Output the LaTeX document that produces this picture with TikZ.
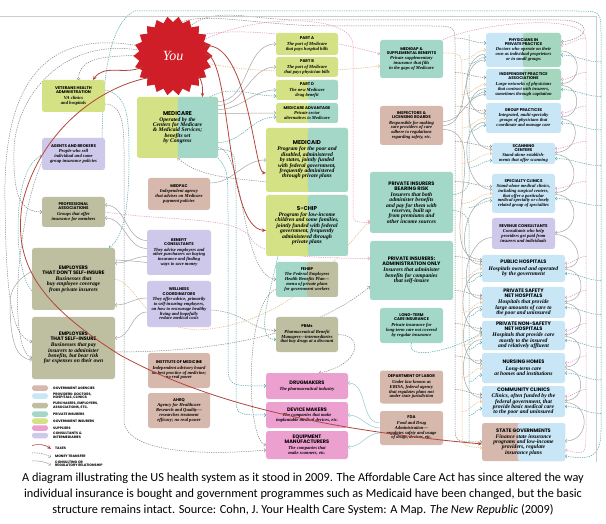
\documentclass[tikz,border=0pt]{standalone}
\usepackage{fontspec}
\setmainfont{Liberation Serif}
\newfontfamily\ttlfont{Poppins}
\newfontfamily\dscfont{Liberation Serif}
\newfontfamily\capfont{Carlito}
\usetikzlibrary{shapes.geometric,arrows.meta,calc}
\pgfdeclarelayer{paper}
\pgfdeclarelayer{bg}
\pgfsetlayers{paper,bg,main}

\definecolor{cgreen}{RGB}{212,225,132}
\definecolor{cteal}{RGB}{163,216,201}
\definecolor{cblue}{RGB}{200,230,246}
\definecolor{ckhaki}{RGB}{190,191,160}
\definecolor{cmauve}{RGB}{214,184,172}
\definecolor{clav}{RGB}{206,200,234}
\definecolor{cpink}{RGB}{236,160,208}
\definecolor{cgt}{RGB}{165,215,190}
\definecolor{cred}{RGB}{208,30,40}
\definecolor{ctax}{RGB}{178,70,60}
\definecolor{lteal}{RGB}{75,165,172}
\definecolor{lgray}{RGB}{135,135,135}
\definecolor{lpink}{RGB}{225,145,195}
\definecolor{lorange}{RGB}{230,182,125}
\definecolor{lcons}{RGB}{165,165,165}
\definecolor{lconsT}{RGB}{150,200,205}

\newcommand\ttS{\ttlfont\bfseries\fontsize{4}{4.2}\selectfont}
\newcommand\ttM{\ttlfont\bfseries\fontsize{5}{5.2}\selectfont}
\newcommand\ttL{\ttlfont\bfseries\fontsize{5.6}{6}\selectfont}
\newcommand\ddS{\dscfont\itshape\fontsize{4.6}{4.8}\selectfont}
\newcommand\ddM{\dscfont\itshape\fontsize{5.6}{5.4}\selectfont}
\newcommand\card[5]{\parbox{#1pt}{\centering#2#3\par\vspace{0.7pt}#4#5\par}}

\tikzset{
  bx/.style={rounded corners=2.5pt, inner sep=1pt, outer sep=0pt},
  sz/.style 2 args={minimum width=#1, minimum height=#2},
  splitfill/.style 2 args={path picture={\fill[#1] ($(path picture bounding box.south west)!#2!(path picture bounding box.south east)$) rectangle (path picture bounding box.north east);}},
  mline/.style={line width=0.5pt, dash pattern=on 1.3pt off 1pt, -{Straight Barb[length=1.6pt,width=3.4pt]}},
  mg/.style={mline, draw=lgray},
  mt/.style={mline, draw=lteal},
  mp/.style={mline, draw=lpink},
  mo/.style={mline, draw=lorange},
  cons/.style={line width=0.5pt, draw=lcons, -{Straight Barb[length=1.6pt,width=3.4pt]}},
  consT/.style={cons, draw=lconsT},
  tax/.style={line width=0.8pt, draw=ctax, -{Stealth[length=4pt,width=3.5pt]}},
  lsw/.style={rounded corners=1.8pt, minimum width=16, minimum height=5.5, inner sep=0pt},
  ltx/.style={font=\ttlfont\bfseries\fontsize{3.4}{3.5}\selectfont, anchor=west, align=left, inner sep=0pt},
}

\begin{document}
\begin{tikzpicture}[x=1pt,y=-1pt]
\useasboundingbox (0,0) rectangle (606,524);
\begin{pgfonlayer}{paper}
\fill[white] (0,0) rectangle (606,524);
\end{pgfonlayer}

% frame
\coordinate (fr1) at (0,16);
\coordinate (fr2) at (596,16);
\coordinate (fr3) at (596,462);
\draw[black!20, line width=0.5pt] (fr1) -- (fr2) -- (fr3);

% ---------- nodes ----------
\node[star, star points=22, star point ratio=0.86, fill=cred, minimum size=68pt, inner sep=0pt] (youstar) at (173,56) {\dscfont\itshape\fontsize{14}{14}\selectfont\color{white}You};
\node[circle, minimum size=64pt, inner sep=0pt] (you) at (173,56) {};

\node[bx,fill=cgreen,sz={63}{32}] (vha) at (73.5,96) {\card{59}{\ttS}{VETERANS HEALTH\\ADMINISTRATION}{\ddS}{VA clinics\\and hospitals}};
\node[bx,fill=clav,sz={63}{32}] (agents) at (73.5,154) {\card{59}{\ttS}{AGENTS AND BROKERS}{\ddS}{People who sell\\individual and some\\group insurance policies}};
\node[bx,fill=ckhaki,sz={63}{30}] (profassoc) at (73.5,212) {\card{59}{\ttS}{PROFESSIONAL\\ASSOCIATIONS}{\ddS}{Groups that offer\\insurance for members}};
\node[bx,fill=ckhaki,sz={83}{62}] (empno) at (73.5,279) {\card{79}{\ttM}{EMPLOYERS\\THAT DON'T SELF-INSURE}{\ddM}{Businesses that\\buy employee coverage\\from private insurers}};
\node[bx,fill=ckhaki,sz={83}{62}] (empself) at (73.5,348) {\card{79}{\ttM}{EMPLOYERS\\THAT SELF-INSURE}{\ddM}{Businesses that pay\\insurers to administer\\benefits, but bear risk\\for expenses on their own}};

\node[bx,fill=cgreen,splitfill={cteal}{0.506},sz={81}{61}] (medicare) at (177.5,127.5) {\card{77}{\ttL}{MEDICARE}{\ddM}{Operated by the\\Centers for Medicare\\\& Medicaid Services;\\benefits set\\by Congress}};
\node[bx,fill=cmauve,sz={62}{32}] (medpac) at (179,194) {\card{58}{\ttS}{MEDPAC}{\ddS}{Independent agency\\that advises on Medicare\\payment policies}};
\node[bx,fill=clav,sz={64}{45}] (bencons) at (179,252.5) {\card{60}{\ttS}{BENEFIT\\CONSULTANTS}{\ddS}{They advise employers and\\other purchasers on buying\\insurance and finding\\ways to save money}};
\node[bx,fill=clav,sz={64}{46}] (wellness) at (179,304) {\card{60}{\ttS}{WELLNESS\\COORDINATORS}{\ddS}{They offer advice, primarily\\to self-insuring employers,\\on how to encourage healthy\\living and hopefully\\reduce medical costs}};
\node[bx,fill=cmauve,sz={62}{35}] (iom) at (179,370.5) {\card{58}{\ttS}{INSTITUTE OF MEDICINE}{\ddS}{Independent advisory board\\on best practice of medicine;\\no real power}};
\node[bx,fill=cmauve,sz={62}{35}] (ahrq) at (179,410.5) {\card{58}{\ttS}{AHRQ}{\ddS}{Agency for Healthcare\\Research and Quality—\\researches treatment\\efficacy; no real power}};

\node[bx,fill=cgreen,sz={62}{22}] (parta) at (307,44) {\card{58}{\ttS}{PART A}{\ddS}{The part of Medicare\\that pays hospital bills}};
\node[bx,fill=cgreen,sz={62}{20}] (partb) at (307,67) {\card{58}{\ttS}{PART B}{\ddS}{The part of Medicare\\that pays physician bills}};
\node[bx,fill=cgreen,splitfill={cteal}{0.52},sz={62}{20}] (partd) at (307,90) {\card{58}{\ttS}{PART D}{\ddS}{The new Medicare\\drug benefit}};
\node[bx,fill=cgreen,splitfill={cteal}{0.52},sz={62}{20}] (medadv) at (307,113) {\card{58}{\ttS}{MEDICARE ADVANTAGE}{\ddS}{Private sector\\alternatives to Medicare}};
\node[bx,fill=cgreen,splitfill={cteal}{0.51},sz={82}{64}] (medicaid) at (307,160) {\card{78}{\ttL}{MEDICAID}{\ddM}{Program for the poor and\\disabled, administered\\by states, jointly funded\\with federal government,\\frequently administered\\through private plans}};
\node[bx,fill=cgreen,splitfill={cteal}{0.51},sz={82}{61}] (schip) at (307,225.5) {\card{78}{\ttL}{S-CHIP}{\ddM}{Program for low-income\\children and some families,\\jointly funded with federal\\government, frequently\\administered through\\private plans}};
\node[bx,fill=cteal,splitfill={ckhaki}{0.5},sz={62}{35}] (fehbp) at (307,279.5) {\card{58}{\ttS}{FEHBP}{\ddS}{The Federal Employees\\Health Benefits Plan—\\menu of private plans\\for government workers}};
\node[bx,fill=ckhaki,sz={62}{35}] (pbms) at (307,334.5) {\card{58}{\ttS}{PBMs}{\ddS}{Pharmaceutical Benefit\\Managers—intermediaries\\that buy drugs at a discount}};
\node[bx,fill=cpink,sz={82}{26}] (drug) at (307,386) {\card{78}{\ttM}{DRUGMAKERS}{\ddS}{The pharmaceutical industry}};
\node[bx,fill=cpink,sz={82}{26}] (device) at (307,415) {\card{78}{\ttM}{DEVICE MAKERS}{\ddS}{The companies that make\\implantable medical devices, etc.}};
\node[bx,fill=cpink,sz={82}{28}] (equip) at (307,445) {\card{78}{\ttM}{EQUIPMENT\\MANUFACTURERS}{\ddS}{The companies that\\make scanners, etc.}};

\node[bx,fill=cteal,sz={63}{38}] (medigap) at (411.5,59) {\card{59}{\ttS}{MEDIGAP \&\\SUPPLEMENTAL BENEFITS}{\ddS}{Private supplementary\\insurance that fills\\in the gaps of Medicare}};
\node[bx,fill=cmauve,sz={63}{39}] (inspectors) at (411.5,125.5) {\card{59}{\ttS}{INSPECTORS \&\\LICENSING BOARDS}{\ddS}{Responsible for making\\sure providers of care\\adhere to regulations\\regarding safety, etc.}};
\node[bx,fill=cteal,sz={83}{61}] (pirisk) at (411.5,202.5) {\card{79}{\ttM}{PRIVATE INSURERS\\BEARING RISK}{\ddM}{Insurers that both\\administer benefits\\and pay for them with\\reserves, built up\\from premiums and\\other income sources}};
\node[bx,fill=cteal,sz={83}{59}] (piadmin) at (411.5,270.5) {\card{79}{\ttM}{PRIVATE INSURERS:\\ADMINISTRATION ONLY}{\ddM}{Insurers that administer\\benefits for companies\\that self-insure}};
\node[bx,fill=cteal,sz={63}{35}] (ltc) at (411.5,325.5) {\card{59}{\ttS}{LONG-TERM\\CARE INSURANCE}{\ddS}{Private insurance for\\long-term care not covered\\by regular insurance}};
\node[bx,fill=cmauve,sz={63}{33}] (dol) at (411.5,387) {\card{59}{\ttS}{DEPARTMENT OF LABOR}{\ddS}{Under law known as\\ERISA, federal agency\\that regulates plans not\\under state jurisdiction}};
\node[bx,fill=cmauve,sz={63}{34}] (fda) at (411.5,428) {\card{59}{\ttS}{FDA}{\ddS}{Food and Drug\\Administration—\\regulates safety and usage\\of drugs, devices, etc.}};

\node[bx,fill=cblue,splitfill={cgt}{0.49},sz={75}{34}] (phys) at (523.5,50) {\card{71}{\ttS}{PHYSICIANS IN\\PRIVATE PRACTICE}{\ddS}{Doctors who operate on their\\own as individual proprietors\\or in small groups}};
\node[bx,fill=cblue,splitfill={cgt}{0.49},sz={75}{31}] (ipa) at (523.5,84.5) {\card{71}{\ttS}{INDEPENDENT PRACTICE\\ASSOCIATIONS}{\ddS}{Large networks of physicians\\that contract with insurers,\\sometimes through capitation}};
\node[bx,fill=cblue,sz={75}{30}] (group) at (523.5,118) {\card{71}{\ttS}{GROUP PRACTICES}{\ddS}{Integrated, multi-specialty\\groups of physicians that\\coordinate and manage care}};
\node[bx,fill=cblue,sz={63}{21}] (scan) at (523.5,153.5) {\card{59}{\ttS}{SCANNING\\CENTERS}{\ddS}{Stand-alone establish-\\ments that offer scanning}};
\node[bx,fill=cblue,sz={63}{39}] (spec) at (523.5,193.5) {\card{59}{\ttS}{SPECIALTY CLINICS}{\ddS}{Stand-alone medical clinics,\\including surgical centers,\\that offer a particular\\medical specialty or closely\\related group of specialties}};
\node[bx,fill=clav,sz={63}{31}] (revenue) at (523.5,233.5) {\card{59}{\ttS}{REVENUE CONSULTANTS}{\ddS}{Consultants who help\\providers get paid from\\insurers and individuals}};
\node[bx,fill=cblue,sz={83}{27}] (pubh) at (523.5,268.5) {\card{79}{\ttM}{PUBLIC HOSPITALS}{\ddM}{Hospitals owned and operated\\by the government}};
\node[bx,fill=cblue,sz={83}{31}] (safety) at (523.5,302.5) {\card{79}{\ttM}{PRIVATE SAFETY\\NET HOSPITALS}{\ddM}{Hospitals that provide\\large amounts of care to\\the poor and uninsured}};
\node[bx,fill=cblue,sz={83}{29}] (nonsafety) at (523.5,335.5) {\card{79}{\ttM}{PRIVATE NON-SAFETY\\NET HOSPITALS}{\ddM}{Hospitals that provide care\\mostly to the insured\\and relatively affluent}};
\node[bx,fill=cblue,sz={83}{30}] (nursing) at (523.5,368) {\card{79}{\ttM}{NURSING HOMES}{\ddM}{Long-term care\\at homes and institutions}};
\node[bx,fill=cblue,sz={83}{31}] (comm) at (523.5,401.5) {\card{79}{\ttM}{COMMUNITY CLINICS}{\ddM}{Clinics, often funded by the\\federal government, that\\provide basic medical care\\to the poor and uninsured}};
\node[bx,fill=cmauve,splitfill={cblue}{0.43},sz={83}{38}] (stategov) at (523.5,442) {\card{79}{\ttM}{STATE GOVERNMENTS}{\ddM}{Finance state insurance\\programs and low-income\\providers, regulate\\insurance plans}};

% legend
\node[lsw,fill=cmauve] (lg1) at (40,388) {};
\node[ltx] (lg1t) at (53,388) {GOVERNMENT AGENCIES};
\node[lsw,fill=cblue] (lg2) at (40,396) {};
\node[ltx] (lg2t) at (53,396) {PROVIDERS: DOCTORS,\\HOSPITALS, CLINICS};
\node[lsw,fill=ckhaki] (lg3) at (40,405.5) {};
\node[ltx] (lg3t) at (53,405.5) {PURCHASERS, EMPLOYERS,\\ASSOCIATIONS, ETC.};
\node[lsw,fill=cteal] (lg4) at (40,414) {};
\node[ltx] (lg4t) at (53,414) {PRIVATE INSURERS};
\node[lsw,fill=cgreen] (lg5) at (40,421) {};
\node[ltx] (lg5t) at (53,421) {GOVERNMENT INSURERS};
\node[lsw,fill=cpink] (lg6) at (40,428) {};
\node[ltx] (lg6t) at (53,428) {SUPPLIERS};
\node[lsw,fill=clav] (lg7) at (40,435.5) {};
\node[ltx] (lg7t) at (53,435.5) {CONSULTANTS \&\\INTERMEDIARIES};
\coordinate (la1) at (32,445.5); \coordinate (la2) at (51,449);
\coordinate (lb1) at (32,453); \coordinate (lb2) at (51,457);
\coordinate (lc1) at (32,461); \coordinate (lc2) at (51,465);
\draw[tax, line width=0.6pt] (la1) to[bend left=25] (la2);
\draw[mg] (lb1) to[bend left=15] (lb2);
\draw[cons] (lc1) to[bend left=15] (lc2);
\node[ltx] (lt1) at (55,448) {TAXES};
\node[ltx] (lt2) at (55,456) {MONEY TRANSFER};
\node[ltx] (lt3) at (55,464) {CONSULTING OR\\REGULATORY RELATIONSHIP};

% caption
\node[font=\capfont\fontsize{12.3}{16}\selectfont, align=center, anchor=north, inner sep=0pt] (cap) at (303,473) {A diagram illustrating the US health system as it stood in 2009. The Affordable Care Act has since altered the way\\individual insurance is bought and government programmes such as Medicaid have been changed, but the basic\\structure remains intact. Source: Cohn, J. Your Health Care System: A Map. \textit{The New Republic} (2009)};

% ---------- waypoints ----------
\coordinate (t1) at (22,205);
\coordinate (t2) at (120,355);
\coordinate (g1) at (5,200);
\coordinate (g2) at (14,150);
\coordinate (c1) at (10,300);
\coordinate (tl2) at (135,11);
\coordinate (tl3) at (575,11);
\coordinate (tl4) at (601,35);
\coordinate (tl5) at (601,430);
\coordinate (vg1) at (124,150);
\coordinate (vg2) at (124,420);
\coordinate (vt1) at (129,160);
\coordinate (s1) at (228,220);
\coordinate (s2) at (228,360);
\coordinate (s3) at (236,200);
\coordinate (s4) at (236,395);
\coordinate (pp1) at (252,240);
\coordinate (pp2) at (353,45);
\coordinate (pp3) at (353,212);
\coordinate (oo2) at (200,330);
\coordinate (g3) at (300,20);
\coordinate (g4) at (560,20);
\coordinate (gt1) at (330,26);
\coordinate (gt2) at (430,26);
\coordinate (gt3) at (455,45);
\coordinate (gt4) at (455,425);
\coordinate (ot1) at (462,75);
\coordinate (ot2) at (462,430);
\coordinate (tt0) at (469,180);
\coordinate (tt1) at (469,35);
\coordinate (tt3) at (469,225);
\coordinate (tt2) at (469,445);
\coordinate (pk1) at (586,40);
\coordinate (pk2) at (586,430);

% ---------- connectors behind boxes ----------
\begin{pgfonlayer}{bg}
% from You
\draw[mg] (you.178) to[out=185,in=90] ([xshift=5pt]vha.north);
\draw[mg] (you.163) .. controls (40,26) and (3,90) .. (g1) .. controls (6,300) and (12,336) .. ([yshift=6pt]empself.west);
\draw[mg] (you.170) .. controls (60,36) and (15,100) .. (g2) .. controls (13,195) and (20,212) .. (profassoc.west);
\draw[mg] ([yshift=-8pt]agents.west) .. controls (16,220) and (8,350) .. ([yshift=-10pt]empself.west);
\draw[mg] (you.62) .. controls (215,5) and (250,20) .. (g3) -- (g4) .. controls (592,20) and (592,38) .. ([yshift=8pt]phys.east);
\draw[mg] (you.82) .. controls (200,10) and (260,26) .. (gt1) -- (gt2) .. controls (455,26) .. (gt3) -- (gt4) .. controls (455,442) .. (stategov.west);
\draw[mp] (you.40) .. controls (250,25) and (330,40) .. ([yshift=5pt]medigap.west);
\draw[mp] (you.28) .. controls (260,12) and (353,15) .. (pp2) -- (pp3) .. controls (353,222) .. ([yshift=-20pt]pirisk.west);
\draw[mo] (you.-12) .. controls (260,75) and (330,72) .. ([yshift=-7pt]medigap.west);
% teal loop
\draw[mt] ([xshift=-3pt]agents.north east) .. controls (103,100) and (104,25) .. (tl2) -- (tl3) .. controls (601,11) .. (tl4) -- (tl5) .. controls (601,458) and (590,460) .. ([yshift=-14pt]stategov.east);
\draw[mt] ([yshift=6pt]vha.east) .. controls (129,95) and (129,120) .. (vt1) .. controls (129,220) and (120,240) .. ([xshift=-6pt]empno.north east);
\draw[mg] ([yshift=-8pt]vha.east) .. controls (122,104) and (124,125) .. (vg1) -- (vg2) .. controls (124,452) and (200,456) .. ([yshift=-5pt]equip.west);
\draw[mt] ([yshift=-12pt]empno.west) .. controls (12,270) and (12,165) .. ([yshift=-2pt]agents.west);
% consulting on the left
\draw[cons] ([yshift=12pt]bencons.west) to[out=180,in=0] ([yshift=7pt]profassoc.east);
\draw[cons] ([yshift=4pt]bencons.west) to[out=180,in=0] ([yshift=-6pt]profassoc.east);
\draw[cons] ([yshift=-4pt]bencons.west) to[out=180,in=0] ([yshift=16pt]empno.east);
\draw[cons] ([yshift=-10pt]bencons.west) .. controls (80,255) and (15,260) .. (c1) .. controls (10,340) and (15,358) .. ([yshift=-12pt]empself.west);
\draw[cons] ([yshift=6pt]wellness.west) to[out=180,in=0] ([yshift=-26pt]empno.east);
\draw[cons] ([yshift=-8pt]wellness.west) to[out=180,in=0] ([yshift=10pt]empself.east);
% Medicare and parts
\draw[cons] ([yshift=26pt]medicare.east) to[out=0,in=180] (parta.west);
\draw[cons] ([yshift=22pt]medicare.east) to[out=0,in=180] (partb.west);
\draw[cons] ([yshift=18pt]medicare.east) to[out=0,in=180] (partd.west);
\draw[cons] ([yshift=14pt]medicare.east) to[out=0,in=180] (medadv.west);
\draw[mt] ([xshift=-8pt]medicare.north east) to[out=30,in=180] ([yshift=-6pt]partd.west);
\draw[mt] ([yshift=-15pt]medicare.east) to[out=0,in=180] ([yshift=-4pt]medadv.west);
\draw[cons] ([yshift=11pt]medpac.east) to[out=0,in=180] (medicaid.west);
\draw[mg] ([yshift=-22pt]medicaid.west) .. controls (235,178) and (200,178) .. (medicare.south);
\draw[mg] ([yshift=-20pt]medicare.east) .. controls (245,150) and (240,275) .. (fehbp.west);
% to suppliers
\draw[mt] (medicare.south east) .. controls (228,170) .. (s1) -- (s2) .. controls (228,386) .. (drug.west);
\draw[mt] ([yshift=-22pt]medicare.east) .. controls (236,150) .. (s3) -- (s4) .. controls (236,415) .. (device.west);
\draw[mg] ([yshift=-10pt]fehbp.west) .. controls (245,300) and (245,440) .. (equip.west);
\draw[mg] (pbms.east) .. controls (365,335) and (360,365) .. ([xshift=12pt]drug.north);
\draw[mg] ([yshift=-6pt]wellness.east) .. controls (245,312) and (250,330) .. ([yshift=4pt]pbms.west);
\draw[mt] ([xshift=12pt]schip.south west) .. controls (268,300) and (255,340) .. ([yshift=-5pt]pbms.west);
\draw[consT] ([yshift=5pt]fda.west) to[out=180,in=0] ([yshift=3pt]drug.east);
\draw[consT] (fda.west) to[out=180,in=0] (device.east);
\draw[consT] ([yshift=-5pt]fda.west) to[out=180,in=0] ([yshift=-2pt]equip.east);
% purchasers to insurers
\draw[mp] (profassoc.east) .. controls (170,222) and (240,215) .. (pp1) .. controls (262,258) and (330,258) .. ([yshift=12pt]piadmin.west);
\draw[mo] (empno.east) .. controls (140,285) and (140,328) .. (oo2) .. controls (300,322) and (345,245) .. ([yshift=-18pt]pirisk.west);
\draw[mg] ([yshift=-4pt]empself.east) .. controls (180,352) and (300,345) .. ([yshift=-16pt]piadmin.west);
\draw[mt] (ltc.south) .. controls (405,362) and (455,350) .. ([yshift=3pt]nonsafety.west);
% trunks to providers
\draw[mo] ([yshift=6pt]medigap.east) .. controls (462,53) .. (ot1) -- (ot2) .. controls (462,446) .. ([yshift=-6pt]stategov.west);
\draw[mt,-] ([yshift=8pt]pirisk.east) to[out=0,in=-90] (tt0) -- (tt1);
\draw[mt,-] ([yshift=-8pt]pirisk.east) to[out=0,in=90] (tt3) -- (tt2);
\draw[mp] (medigap.north east) .. controls (470,25) and (586,10) .. (pk1) -- (pk2) .. controls (586,455) .. ([yshift=-8pt]stategov.east);
\foreach \p in {phys,ipa,group,scan,spec,pubh,safety,nonsafety,nursing,comm}{
  \draw[mg] ($(455,0 |- \p.west)+(0,-12)$) to[out=0,in=180] ($(\p.west)+(0,-7)$);
  \draw[mo] ($(462,0 |- \p.west)+(0,10)$) to[out=0,in=180] (\p.west);
  \draw[mt] ($(469,0 |- \p.west)+(0,14)$) to[out=0,in=180] ($(\p.west)+(0,7)$);
  \draw[mp] ($(586,0 |- \p.east)+(0,-12)$) to[out=180,in=0] ($(\p.east)+(0,-5)$);
  \draw[mt] ($(601,0 |- \p.east)+(0,12)$) to[out=180,in=0] ($(\p.east)+(0,5)$);
}
\foreach \a/\b in {phys/ipa,ipa/group,group/scan,scan/spec,spec/revenue,revenue/pubh,pubh/safety,safety/nonsafety,nonsafety/nursing,nursing/comm,comm/stategov}
  \draw[cons] ($(\a.east)+(0,1)$) to[out=0,in=0,looseness=1.7] ($(\b.east)+(0,-1)$);
\foreach \a/\b in {phys/group,ipa/scan,group/spec,spec/pubh,revenue/safety,pubh/nonsafety,safety/nursing,nonsafety/comm}
  \draw[cons] ($(\a.west)+(0,4)$) to[out=180,in=180,looseness=1.1] ($(\b.west)+(0,-4)$);
\draw[cons] (inspectors.east) to[out=0,in=180] ($(phys.west)+(0,10)$);
\draw[cons] ([yshift=4pt]inspectors.east) to[out=0,in=180] ($(ipa.west)+(0,10)$);
\draw[cons] ([yshift=-4pt]inspectors.east) to[out=0,in=180] ($(pubh.west)+(0,-9)$);
\end{pgfonlayer}

% ---------- taxes (on top) ----------
\draw[tax] (you.200) to[out=205,in=55] ([xshift=-12pt]vha.north east);
\draw[tax] (you.-38) to[out=-55,in=90] ([xshift=25pt]medicare.north);
\draw[tax] (you.18) .. controls (248,38) and (254,172) .. ([yshift=-13pt]medicaid.west);
\draw[tax] (you.4) .. controls (232,55) and (224,228) .. ([yshift=-5pt]schip.west);
\draw[tax] (you.222) .. controls (95,88) and (38,135) .. (t1) .. controls (14,262) and (36,302) .. (t2) .. controls (220,410) and (350,432) .. ([yshift=-2pt]stategov.west);
\end{tikzpicture}
\end{document}
